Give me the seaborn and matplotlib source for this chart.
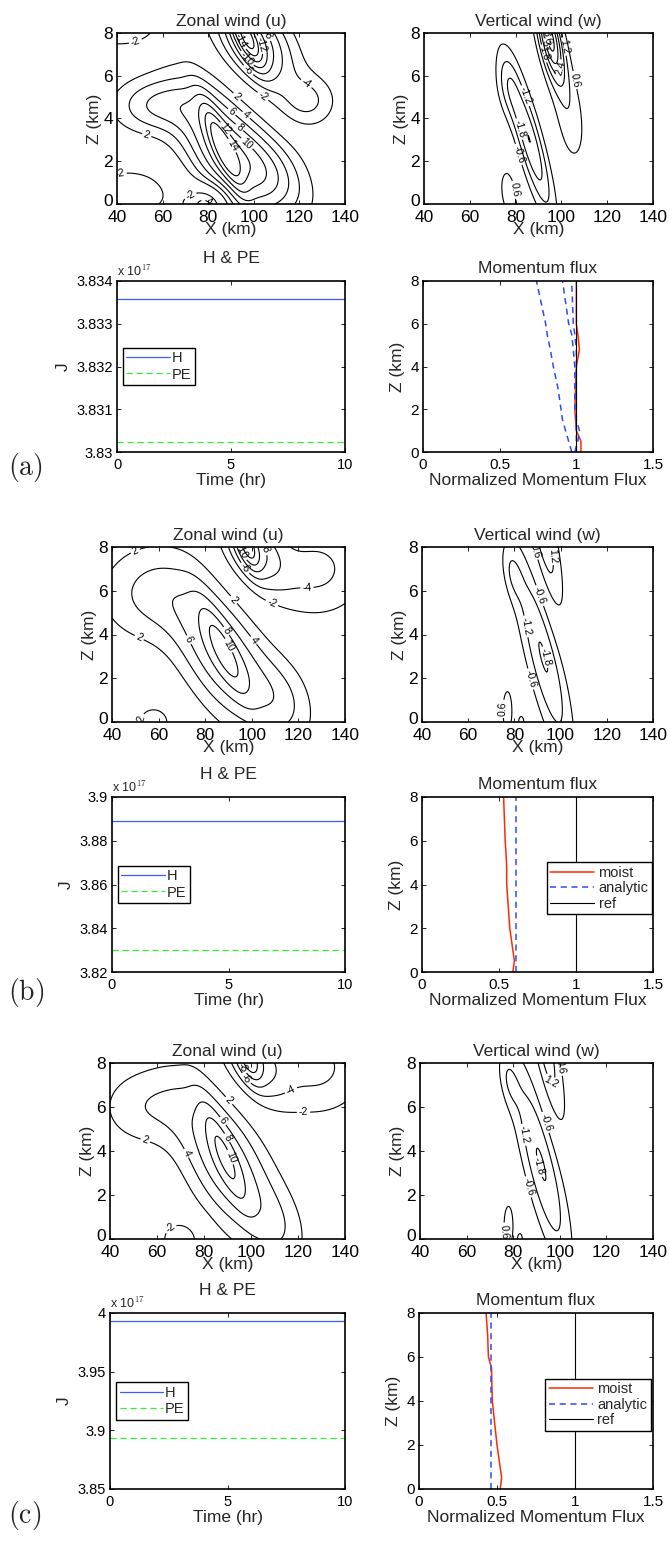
import numpy as np
import matplotlib
matplotlib.use("Agg")
import matplotlib.pyplot as plt
import matplotlib.transforms as mtransforms
import seaborn as sns
from matplotlib.ticker import FuncFormatter

sns.set_theme(style="ticks")
plt.rcParams["font.family"] = ["Liberation Sans", "DejaVu Sans"]
plt.rcParams["mathtext.fontset"] = "cm"
plt.rcParams["contour.negative_linestyle"] = "solid"

# ---- data ----
# contour fields as sums of tilted blobs: (amp, x0, z0, tilt, width_x, width_z)
U_A = [(5, 86, 2.8, 3.8, 4.5, 2.2), (11, 87, 2.5, 3.8, 17, 3.0), (5.5, 56, 4.6, 0, 18, 1.3),
       (5.5, 108, 1.5, 3.8, 15, 2.0),
       (-8, 96, 8.0, 3.8, 5, 1.6), (-10, 100, 7.6, 3.8, 15, 2.2), (-4, 124, 4.8, 0, 12, 1.2),
       (-6, 80, 0, 0, 9, 0.9), (-3, 45, 0.5, 0, 25, 1.5), (-4, 42, 8.3, 0, 18, 1.0)]
U_B = [(3, 87, 3.5, 4.0, 5, 2.2), (8.5, 88, 3.0, 4.0, 18, 3.2), (4, 55, 5.85, 0, 22, 2.2),
       (3, 114, 1.0, 2.0, 13, 2.0),
       (-6, 97, 8.3, 3.0, 4, 1.3), (-8, 100, 8.0, 3.0, 12, 1.8), (-4.5, 128, 7.0, 0, 22, 2.2),
       (-3, 58, 0, 0, 9, 0.9)]
U_C = [(3, 88, 4.0, 3.5, 4.5, 2.4), (8, 89, 3.5, 3.5, 17, 3.3), (3.5, 55, 6.0, 0, 20, 1.8),
       (2.5, 112, 0.5, 2.0, 12, 2.0),
       (-5, 98, 8.4, 3.0, 4, 1.2), (-7, 100, 8.2, 3.0, 12, 1.8), (-4.5, 128, 7.8, 0, 22, 2.2),
       (-3.5, 70, 0, 0, 9, 0.9)]
W_A = [(-2.4, 86, 3.0, 2.5, 5.5, 3.5), (3.8, 95, 7.8, 1.8, 5, 2.2), (0.9, 104, 4.0, 1.0, 7, 2.5),
       (1.0, 77, 0.5, 1.0, 4, 1.3), (-0.8, 76, 5.5, 1, 5, 1.5)]
W_B = [(-1.85, 92.5, 3.0, 2.2, 7.5, 4.6), (-0.8, 79, 6.8, 1.5, 4, 1.3), (1.6, 92.4, 8.5, 1.8, 5.8, 3.6),
       (0.9, 77, 0.5, 0, 3, 1.4), (1.0, 83, 0, 0, 1.5, 0.35)]
W_C = [(-1.85, 92, 3.4, 2.2, 7.5, 4.6), (-0.8, 78, 7.2, 1.5, 4, 1.3), (1.5, 94, 8.6, 1.8, 5.5, 3.6),
       (0.9, 78, 0.6, 0, 3, 1.4), (0.9, 83, 0, 0, 1.4, 0.35)]

U_LEVELS = [-20, -18, -16, -14, -12, -10, -8, -6, -4, -2, 2, 4, 6, 8, 10, 12, 14]
W_LEVELS = [-3.6, -3.0, -2.4, -1.8, -1.2, -0.6, 0.6, 1.2, 1.8, 2.4, 3.0, 3.6]

# energy time series (units of 1e17 J)
time_hr = [0, 10]
H_A, PE_A = [3.83357, 3.83357], [3.83023, 3.83023]
H_B, PE_B = [3.8889, 3.8889], [3.8300, 3.8300]
H_C, PE_C = [3.9935, 3.9935], [3.8935, 3.8935]
YLIM = [(3.83, 3.834), (3.82, 3.90), (3.85, 4.0)]
YTICKS = [[3.83, 3.831, 3.832, 3.833, 3.834], [3.82, 3.84, 3.86, 3.88, 3.9], [3.85, 3.9, 3.95, 4.0]]

# momentum flux profiles
z_km = [0, 0.5, 1, 1.5, 2, 3, 4, 4.8, 5.5, 6, 7, 8]
MOIST_A = [1.03, 1.03, 1.00, 0.995, 0.99, 0.995, 1.00, 1.02, 1.01, 1.0, 1.0, 1.0]
ANA_A1 = [0.97, 0.95, 0.93, 0.91, 0.90, 0.88, 0.85, 0.83, 0.81, 0.80, 0.77, 0.74]
ANA_A2 = [0.99, 1.01, 1.02, 1.0, 0.99, 0.99, 0.99, 0.98, 0.97, 0.95, 0.93, 0.91]
ANA_A3 = [1.0, 1.0, 1.0, 1.0, 1.0, 1.0, 1.0, 1.0, 0.99, 0.98, 0.975, 0.97]
MOIST_B = [0.59, 0.60, 0.59, 0.58, 0.57, 0.56, 0.55, 0.55, 0.545, 0.54, 0.535, 0.53]
ANA_B = [0.61] * 12
MOIST_C = [0.52, 0.53, 0.52, 0.51, 0.50, 0.485, 0.47, 0.467, 0.465, 0.445, 0.44, 0.43]
ANA_C = [0.46] * 12

W, H = 670, 1542
fig = plt.figure(figsize=(W / 100, H / 100), dpi=100)

rows = [(33, 204), (281, 452), (547, 722), (797, 972), (1063, 1239), (1313, 1489)]
lefts = [(117, 424), (117, 423), (112, 422), (112, 422), (110, 420), (110, 419)]
RIGHT_L, RIGHT_R = 345, 653


def add_ax(row, col):
    top, bot = rows[row]
    l = lefts[row][col]
    r = RIGHT_L if col == 0 else RIGHT_R
    ax = fig.add_axes([l / W, 1 - bot / H, (r - l) / W, (bot - top) / H])
    ax.tick_params(direction="in", top=True, right=True, length=3, width=0.6,
                   colors="black")
    ax.tick_params(axis="x", pad=4)
    ax.tick_params(axis="y", pad=3)
    for s in ax.spines.values():
        s.set_linewidth(1.2)
        s.set_color("black")
    return ax


xg = np.linspace(40, 140, 301)
zg = np.linspace(0, 8, 241)
XX, ZZ = np.meshgrid(xg, zg)


def field(blobs):
    f = np.zeros_like(XX)
    for a, x0, z0, s, wx, wz in blobs:
        xr = (XX - x0 + s * (ZZ - z0)) / wx
        f += a * np.exp(-xr ** 2 - ((ZZ - z0) / wz) ** 2)
    return f


def lift_zero_label(ax):
    # nudge the "0" y tick label up so it clears the first x tick label
    lab = ax.yaxis.get_major_ticks()[0].label1
    lab.set_transform(lab.get_transform() +
                      mtransforms.ScaledTranslation(0, 4 / 100, fig.dpi_scale_trans))


def contour_panel(ax, blobs, levels, title):
    cs = ax.contour(XX, ZZ, field(blobs), levels=levels, colors="black", linewidths=0.8)
    ax.clabel(cs, fmt="%g", fontsize=7.5, inline=True, inline_spacing=2)
    ax.set_xlim(40, 140)
    ax.set_ylim(0, 8)
    ax.set_xticks([40, 60, 80, 100, 120, 140])
    ax.set_yticks([0, 2, 4, 6, 8])
    ax.tick_params(labelsize=12.5)
    ax.set_title(title, fontsize=12.5, pad=5)
    ax.set_xlabel("X (km)", fontsize=12.5, labelpad=-2)
    ax.set_ylabel("Z (km)", fontsize=12.5, labelpad=1)
    lift_zero_label(ax)


def energy_panel(ax, hv, pev, ylim, yticks):
    sns.lineplot(x=time_hr, y=hv, ax=ax, color="#3d5cff", linewidth=0.9, label="H")
    sns.lineplot(x=time_hr, y=pev, ax=ax, color="#33ee33", linewidth=0.9,
                 linestyle=(0, (5, 3)), label="PE")
    ax.set_xlim(0, 10)
    ax.set_ylim(*ylim)
    ax.set_xticks([0, 5, 10])
    ax.set_yticks(yticks)
    ax.yaxis.set_major_formatter(FuncFormatter(lambda v, p: "%g" % round(v, 4)))
    ax.tick_params(labelsize=10.5)
    ax.set_title("H & PE", fontsize=12.5, pad=13)
    ax.set_xlabel("Time (hr)", fontsize=12.5, labelpad=1)
    ax.set_ylabel("J", fontsize=12.5, labelpad=4)
    ax.text(0, 1.01, r"x 10$^{17}$", transform=ax.transAxes, fontsize=9,
            ha="left", va="bottom")
    leg = ax.legend(loc="center left", bbox_to_anchor=(0.025, 0.5), fontsize=10.5,
                    fancybox=False, framealpha=1, edgecolor="black",
                    handlelength=3.0, handletextpad=0.1, borderpad=0.25,
                    labelspacing=0.15, borderaxespad=0)
    leg.get_frame().set_linewidth(1.0)


def flux_panel(ax, moist, analytic, legend):
    sns.lineplot(x=moist, y=z_km, orient="y", ax=ax, color="#ff2a00", linewidth=1.1,
                 label="moist" if legend else None)
    for i, a in enumerate(analytic):
        sns.lineplot(x=a, y=z_km, orient="y", ax=ax, color="#2b4bff", linewidth=1.1,
                     linestyle=(0, (4, 3)), label="analytic" if (legend and i == 0) else None)
    ax.axvline(1.0, color="black", linewidth=0.8, label="ref" if legend else None)
    ax.set_xlim(0, 1.5)
    ax.set_ylim(0, 8)
    ax.set_xticks([0, 0.5, 1, 1.5])
    ax.set_xticklabels(["0", "0.5", "1", "1.5"])
    ax.set_yticks([0, 2, 4, 6, 8])
    ax.tick_params(labelsize=11)
    ax.set_title("Momentum flux", fontsize=12.5, pad=6)
    ax.set_xlabel("Normalized Momentum Flux", fontsize=12.5, labelpad=1)
    ax.set_ylabel("Z (km)", fontsize=12.5, labelpad=4)
    if legend:
        leg = ax.legend(loc="lower left", bbox_to_anchor=(0.54, 0.33), fontsize=10.5,
                        fancybox=False, framealpha=1, edgecolor="black",
                        handlelength=3.0, handletextpad=0.3, borderpad=0.25,
                        labelspacing=0.1, borderaxespad=0)
        leg.get_frame().set_linewidth(1.0)
    else:
        if ax.get_legend():
            ax.get_legend().remove()


panels = [
    (U_A, W_A, H_A, PE_A, MOIST_A, [ANA_A1, ANA_A2, ANA_A3], False, "(a)"),
    (U_B, W_B, H_B, PE_B, MOIST_B, [ANA_B], True, "(b)"),
    (U_C, W_C, H_C, PE_C, MOIST_C, [ANA_C], True, "(c)"),
]
label_y = [468, 992, 1515]

for k, (ub, wb, hv, pev, moist, ana, leg, tag) in enumerate(panels):
    contour_panel(add_ax(2 * k, 0), ub, U_LEVELS, "Zonal wind (u)")
    contour_panel(add_ax(2 * k, 1), wb, W_LEVELS, "Vertical wind (w)")
    energy_panel(add_ax(2 * k + 1, 0), hv, pev, YLIM[k], YTICKS[k])
    flux_panel(add_ax(2 * k + 1, 1), moist, ana, leg)
    fig.text(8 / W, 1 - label_y[k] / H, r"$\mathrm{" + tag + "}$", fontsize=20,
             ha="left", va="center")

fig.savefig("out.png", dpi=100)
